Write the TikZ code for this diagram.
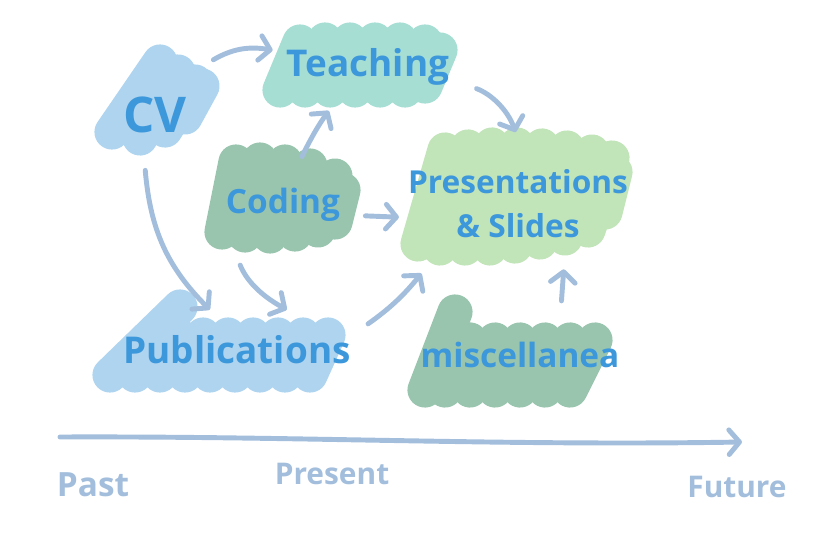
\documentclass[tikz,border=0pt]{standalone}
\usepackage{fontspec}
\setmainfont{Open Sans}
\usepackage{xcolor}
\usetikzlibrary{arrows.meta}
\definecolor{ink}{HTML}{3C97DB}
\definecolor{arrowblue}{HTML}{A2BEDC}
\definecolor{skyblob}{HTML}{AED4EF}
\definecolor{tealblob}{HTML}{A6DED4}
\definecolor{sageblob}{HTML}{99C5AF}
\definecolor{limeblob}{HTML}{C2E4B9}
\tikzset{
  scrib/.style={line width=20pt, line cap=round},
  box/.style={inner sep=0pt, text=ink, align=center, font=\fontsize{21}{26}\selectfont\bfseries},
  time/.style={text=arrowblue, font=\fontsize{17}{22}\selectfont\bfseries},
  link/.style={arrowblue, line width=2.8pt, line cap=round, -{Straight Barb[round,length=6pt,width=14pt]}},
}

\begin{document}
\begin{tikzpicture}[x=0.02cm,y=-0.02cm]
  \useasboundingbox (0,0) rectangle (816,537);
  % scribbles
  \foreach \a/\b/\c/\d in {112/132/160/62, 140/138/178/72, 165/130/195/82, 185/117/202/86}
    \draw[scrib,skyblob] (\a,\b) -- (\c,\d);
  \foreach \a/\b/\c/\d in {280/90/300/42, 305/90/325/40, 330/90/350/40, 355/90/375/40, 380/90/400/40, 405/90/425/42, 425/86/440/50}
    \draw[scrib,tealblob] (\a,\b) -- (\c,\d);
  \foreach \a/\b/\c/\d in {222/232/236/162, 245/235/260/160, 270/236/285/162, 295/234/310/166, 318/230/335/176, 335/222/343/190}
    \draw[scrib,sageblob] (\a,\b) -- (\c,\d);
  \foreach \a/\b/\c/\d in {418/244/445/150, 440/248/468/147, 465/248/492/145, 490/248/517/145, 515/246/542/146, 540/242/567/148, 565/238/592/152, 588/230/612/158, 605/212/615/172}
    \draw[scrib,limeblob] (\a,\b) -- (\c,\d);
  \draw[scrib,skyblob] (110,375) -- (180,307);
  \foreach \x in {135,160,...,315}
    \draw[scrib,skyblob] (\x,375) -- (\x+18,335);
  \draw[scrib,sageblob] (425,390) -- (455,312);
  \foreach \x in {445,470,...,590}
    \draw[scrib,sageblob] (\x,390) -- (\x+25,340);

  \node[box, minimum width=2.2cm, minimum height=2.2cm, font=\fontsize{28}{32}\selectfont\bfseries] (CV) at (155,115) {CV};
  \node[box, minimum width=3.8cm, minimum height=1.4cm] (Teach) at (368,67) {Teaching};
  \node[box, minimum width=3cm, minimum height=1.8cm, font=\fontsize{19}{24}\selectfont\bfseries] (Code) at (283,205) {Coding};
  \node[box, minimum width=4.4cm, minimum height=2.6cm, font=\fontsize{18}{25}\selectfont\bfseries] (Pres) at (518,204) {Presentations\\\& Slides};
  \node[box, minimum width=5cm, minimum height=1.6cm] (Pub) at (237,350) {Publications};
  \node[box, minimum width=4.2cm, minimum height=1.8cm, font=\fontsize{19}{24}\selectfont\bfseries] (Misc) at (520,355) {miscellanea};

  \draw[link, shorten <=2pt] (CV.44) to[bend left=20] (Teach.170);
  \draw[link] (CV.260) to[bend right=20] (Pub.124);
  \draw[link, shorten <=2pt, shorten >=6pt] (Code.69) to[bend left=5] (Teach.227);
  \draw[link, shorten <=4pt, shorten >=5pt] (Code.-8) -- (Pres.187);
  \draw[link, shorten <=9pt] (Code.223) to[bend right=20] (Pub.39);
  \draw[link, shorten <=8pt, shorten >=4pt] (Teach.-10) to[bend left=25] (Pres.north);
  \draw[link, shorten <=4pt, shorten >=3pt] (Pub.10) to[bend right=8] (Pres.215);
  \draw[link, shorten <=5pt] (Misc.48) -- (Pres.305);

  % time line
  \coordinate (T0) at (60,437);
  \coordinate (T1) at (742,442);
  \draw[link] (T0) .. controls (300,436) and (500,446) .. (T1);
  \node[time, font=\fontsize{19}{24}\selectfont\bfseries] (Past) at (93,485) {Past};
  \node[time] (Now) at (332,474) {Present};
  \node[time] (Fut) at (737,487) {Future};
\end{tikzpicture}
\end{document}
